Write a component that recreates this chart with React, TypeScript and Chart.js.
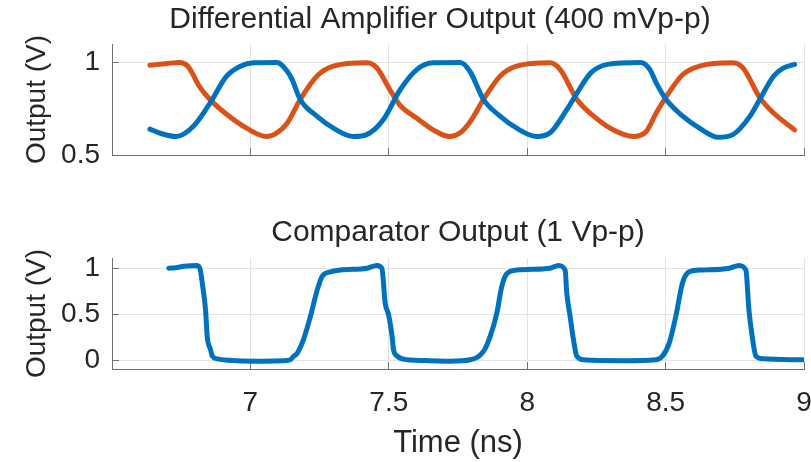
import React, { useEffect, useRef } from "react";
import { Chart, registerables } from "chart.js";

Chart.register(...registerables);

// ---------- data ----------
const xTicks = [7, 7.5, 8, 8.5, 9];
const topYTicks = [0.5, 1];
const bottomYTicks = [0, 0.5, 1];

const ampBlueTime = [6.637, 6.68, 6.733, 6.793, 6.854, 6.914, 6.964, 7.012, 7.096, 7.133, 7.15, 7.18, 7.24, 7.3, 7.372, 7.42, 7.48, 7.54, 7.6, 7.66, 7.758, 7.794, 7.842, 7.902, 7.962, 8.034, 8.083, 8.143, 8.18, 8.23, 8.29, 8.41, 8.444, 8.466, 8.502, 8.562, 8.622, 8.69, 8.743, 8.805, 8.84, 8.89, 8.925, 8.966];
const ampBlueValues = [0.64, 0.615, 0.6, 0.654, 0.78, 0.926, 0.98, 0.998, 1.0, 0.953, 0.91, 0.8, 0.71, 0.645, 0.6, 0.61, 0.69, 0.85, 0.96, 0.998, 1.0, 0.95, 0.8, 0.71, 0.645, 0.6, 0.62, 0.745, 0.835, 0.944, 0.99, 1.0, 0.96, 0.89, 0.8, 0.71, 0.645, 0.596, 0.61, 0.71, 0.8, 0.926, 0.97, 0.99];

const ampOrangeTime = [6.637, 6.7, 6.744, 6.774, 6.816, 6.854, 6.914, 6.986, 7.058, 7.096, 7.132, 7.18, 7.24, 7.3, 7.42, 7.457, 7.505, 7.54, 7.6, 7.66, 7.72, 7.758, 7.794, 7.842, 7.902, 7.962, 8.083, 8.12, 8.18, 8.24, 8.31, 8.383, 8.43, 8.466, 8.5, 8.562, 8.622, 8.743, 8.78, 8.84, 8.89, 8.966];
const ampOrangeValues = [0.985, 0.995, 1.0, 0.98, 0.87, 0.8, 0.72, 0.645, 0.6, 0.62, 0.67, 0.8, 0.926, 0.98, 0.998, 0.97, 0.85, 0.77, 0.7, 0.636, 0.6, 0.62, 0.68, 0.8, 0.926, 0.98, 0.998, 0.96, 0.8, 0.71, 0.636, 0.6, 0.627, 0.727, 0.81, 0.935, 0.98, 0.998, 0.97, 0.81, 0.727, 0.636];

const compTime = [6.705, 6.73, 6.76, 6.808, 6.819, 6.826, 6.838, 6.844, 6.856, 6.862, 6.88, 6.95, 7.05, 7.12, 7.144, 7.156, 7.169, 7.192, 7.217, 7.241, 7.259, 7.289, 7.325, 7.421, 7.457, 7.475, 7.487, 7.499, 7.512, 7.517, 7.53, 7.566, 7.65, 7.722, 7.794, 7.842, 7.866, 7.89, 7.908, 7.926, 7.962, 8.083, 8.113, 8.137, 8.143, 8.155, 8.167, 8.179, 8.203, 8.35, 8.465, 8.489, 8.513, 8.537, 8.561, 8.585, 8.634, 8.73, 8.765, 8.79, 8.801, 8.813, 8.826, 8.85, 8.995];
const compValues = [1.0, 1.005, 1.02, 1.03, 0.98, 0.84, 0.55, 0.26, 0.12, 0.05, 0.02, 0.0, -0.005, 0.0, 0.01, 0.046, 0.08, 0.23, 0.48, 0.76, 0.91, 0.96, 0.98, 1.0, 1.03, 1.0, 0.62, 0.5, 0.26, 0.12, 0.05, 0.01, 0.0, -0.005, 0.01, 0.1, 0.26, 0.51, 0.8, 0.94, 0.98, 1.0, 1.03, 0.98, 0.73, 0.48, 0.23, 0.05, 0.01, 0.0, 0.01, 0.05, 0.19, 0.48, 0.84, 0.96, 0.98, 1.0, 1.03, 0.98, 0.55, 0.26, 0.05, 0.02, 0.01];

const topTitle = "Differential Amplifier Output (400 mVp-p)";
const bottomTitle = "Comparator Output (1 Vp-p)";
const yLabel = "Output (V)";
const xLabel = "Time (ns)";

// ---------- styles ----------
const FONT = "'Liberation Sans', Arial, Helvetica, sans-serif";
const BLUE = "#0072BD";
const ORANGE = "#D95319";
const TEXT = "#262626";
const AXIS = "#707070";
const GRID = "#e2e2e2";

const W = 811;
const TOP_H = 200;
const BOT_H = 262;
const AREA_LEFT = 112;
const PAD_RIGHT = 7;

const pts = (xs: number[], ys: number[]) => xs.map((x, i) => ({ x, y: ys[i] }));

const panelTitle = {
  id: "panelTitle",
  afterDraw(chart: any, _args: any, opts: any) {
    const { ctx, chartArea } = chart;
    ctx.save();
    ctx.font = `${opts.size}px ${FONT}`;
    ctx.fillStyle = TEXT;
    ctx.textAlign = "center";
    ctx.textBaseline = "middle";
    ctx.fillText(opts.text, (chartArea.left + chartArea.right) / 2 + opts.dx, opts.y);
    ctx.restore();
  },
};

function lineDs(data: any[], color: string) {
  return {
    data,
    borderColor: color,
    backgroundColor: color,
    borderWidth: 5,
    pointRadius: 0,
    fill: false,
    cubicInterpolationMode: "monotone" as const,
    borderCapStyle: "round" as const,
    borderJoinStyle: "round" as const,
  };
}

function yScale(min: number, max: number, ticks: number[]) {
  return {
    type: "linear" as const,
    min,
    max,
    afterBuildTicks: (s: any) => {
      s.ticks = ticks.map((v) => ({ value: v }));
    },
    afterFit: (s: any) => {
      s.width = AREA_LEFT;
    },
    ticks: {
      font: { family: FONT, size: 28 },
      color: TEXT,
      padding: 19,
      callback: (v: any) => String(v),
    },
    grid: { color: GRID, lineWidth: 1, tickLength: -7, tickColor: AXIS, tickWidth: 1 },
    border: { color: AXIS, width: 1 },
    title: {
      display: true,
      text: yLabel,
      font: { family: FONT, size: 28 },
      color: TEXT,
      padding: { top: 20, bottom: 0 },
    },
  };
}

function xScale(showLabels: boolean, height: number) {
  return {
    type: "linear" as const,
    min: 6.5,
    max: 9,
    afterBuildTicks: (s: any) => {
      s.ticks = xTicks.map((v) => ({ value: v }));
    },
    afterFit: (s: any) => {
      s.height = height;
      s.paddingLeft = 0;
      s.paddingRight = 0;
    },
    ticks: {
      display: showLabels,
      font: { family: FONT, size: 28 },
      color: TEXT,
      padding: 24,
      maxRotation: 0,
      callback: (v: any) => String(v),
    },
    grid: { color: GRID, lineWidth: 1, tickLength: -7, tickColor: AXIS, tickWidth: 1 },
    border: { color: AXIS, width: 1 },
    title: {
      display: showLabels,
      text: xLabel,
      font: { family: FONT, size: 31 },
      color: TEXT,
      padding: { top: 0, bottom: 0 },
    },
  };
}

function useChart(ref: React.RefObject<HTMLCanvasElement>, makeConfig: () => any) {
  useEffect(() => {
    if (!ref.current) return;
    const chart = new Chart(ref.current, makeConfig());
    return () => chart.destroy();
  }, []);
}

export default function App() {
  const topRef = useRef<HTMLCanvasElement>(null);
  const botRef = useRef<HTMLCanvasElement>(null);

  useChart(topRef, () => ({
    type: "line",
    data: {
      datasets: [
        lineDs(pts(ampBlueTime, ampBlueValues), BLUE),
        lineDs(pts(ampOrangeTime, ampOrangeValues), ORANGE),
      ],
    },
    plugins: [panelTitle],
    options: {
      animation: false,
      responsive: false,
      devicePixelRatio: 1,
      layout: { padding: { top: 44, right: PAD_RIGHT, left: 0, bottom: 0 } },
      plugins: {
        legend: { display: false },
        tooltip: { enabled: false },
        panelTitle: { text: topTitle, size: 30, dx: -18, y: 20 },
      },
      scales: {
        x: xScale(false, TOP_H - 155),
        y: yScale(0.5, 1.1, topYTicks),
      },
    },
  }));

  useChart(botRef, () => ({
    type: "line",
    data: {
      datasets: [lineDs(pts(compTime, compValues), BLUE)],
    },
    plugins: [panelTitle],
    options: {
      animation: false,
      responsive: false,
      devicePixelRatio: 1,
      layout: { padding: { top: 58, right: PAD_RIGHT, left: 0, bottom: 0 } },
      plugins: {
        legend: { display: false },
        tooltip: { enabled: false },
        panelTitle: { text: bottomTitle, size: 30, dx: 0, y: 33 },
      },
      scales: {
        x: xScale(true, BOT_H - 169),
        y: yScale(-0.09, 1.11, bottomYTicks),
      },
    },
  }));

  return (
    <div
      style={{
        position: "fixed",
        left: 0,
        top: 0,
        width: W,
        height: TOP_H + BOT_H,
        overflow: "hidden",
        background: "#ffffff",
      }}
    >
      <canvas
        ref={topRef}
        width={W}
        height={TOP_H}
        style={{ position: "absolute", left: 0, top: 0, width: W, height: TOP_H }}
      />
      <canvas
        ref={botRef}
        width={W}
        height={BOT_H}
        style={{ position: "absolute", left: 0, top: TOP_H, width: W, height: BOT_H }}
      />
    </div>
  );
}
